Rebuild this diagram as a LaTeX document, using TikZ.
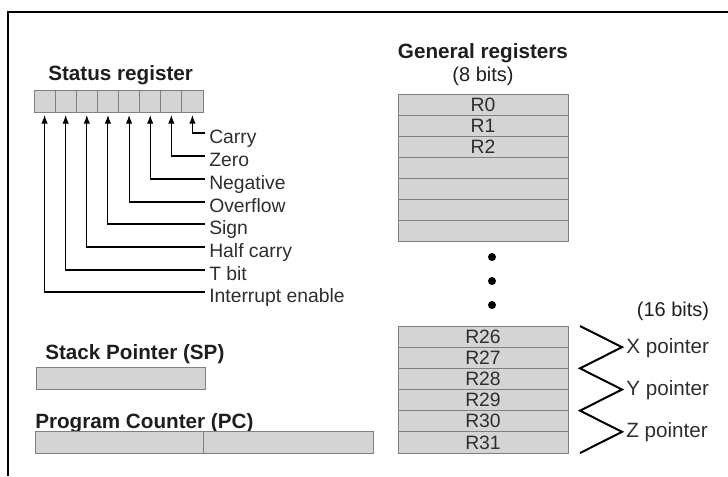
\documentclass[tikz,border=0pt]{standalone}
\usepackage{fontspec}
\setmainfont{Liberation Sans}
\usetikzlibrary{arrows.meta}
\definecolor{cellfill}{HTML}{D4D4D4}
\definecolor{celledge}{HTML}{808080}
\definecolor{labtext}{HTML}{2E2E2E}
\definecolor{titletext}{HTML}{1E1E1E}
\begin{document}
\begin{tikzpicture}[x=0.75pt,y=-0.75pt,
  cell/.style={draw=celledge, fill=cellfill, line width=0.75pt, inner sep=0pt, outer sep=0pt},
  title/.style={font=\fontsize{15.5}{18}\selectfont\bfseries, text=titletext, inner sep=0pt, anchor=base west},
  lab/.style={font=\fontsize{14.5}{17}\selectfont, text=labtext, inner sep=0pt, anchor=base west},
  ptrlab/.style={font=\fontsize{15.5}{18}\selectfont, text=labtext, inner sep=0pt, anchor=base west},
  bitslab/.style={font=\fontsize{15}{18}\selectfont, text=titletext, inner sep=0pt, anchor=base},
  reglab/.style={cell, minimum width=127.5pt, font=\fontsize{14.5}{16}\selectfont, text=labtext},
  flagarrow/.style={line width=0.8pt, -{Latex[length=6.5pt,width=4.8pt]}, shorten >=2.25pt},
  dot/.style={circle, fill=black, inner sep=0pt, minimum size=6pt},
  zig/.style={line width=1.5pt, line join=miter}]
\useasboundingbox (0,0) rectangle (728,476);
% frame
\draw[line width=1.6pt] (728,12) -- (8,12) -- (8,476);

% status register
\node[title] (st) at (48,80) {Status register};
\foreach \i in {1,...,8}
  \node[cell, minimum width=15.84pt, minimum height=16.5pt] (s\i) at ({34+21.125*(\i-0.5)},101) {};
\foreach \i/\t/\y in {8/Carry/133, 7/Zero/156, 6/Negative/179, 5/Overflow/202, 4/Sign/224, 3/Half carry/247, 2/T bit/270, 1/Interrupt enable/292} {
  \coordinate (e\i) at (205,\y);
  \node[lab] (l\i) at (209,\y+10) {\t};
  \draw[flagarrow] (e\i) -| (s\i.south);
}

% general registers
\node[title, anchor=base] (gt) at (483,58) {General registers};
\node[bitslab] (gb) at (483,81) {(8 bits)};
\foreach \i/\t in {0/R0,1/R1,2/R2,3/,4/,5/,6/}
  \node[reglab, minimum height=15.75pt] (g\i) at (483,{104.5+21*\i}) {\t};
\node[dot] (d1) at (492,257) {};
\node[dot] (d2) at (492,281) {};
\node[dot] (d3) at (492,305) {};
\node[bitslab] (hb) at (673,316) {(16 bits)};
\foreach \i/\t in {0/R26,1/R27,2/R28,3/R29,4/R30,5/R31}
  \node[reglab, minimum height=15.875pt] (h\i) at (483,{326+21.17*(\i+0.5)}) {\t};
\foreach \k in {0,2,4,6}
  \coordinate (z\k) at (580,{326+21.17*\k});
\foreach \k in {1,3,5}
  \coordinate (z\k) at (622,{326+21.17*\k});
\draw[zig] (z0) -- (z1) -- (z2) -- (z3) -- (z4) -- (z5) -- (z6);
\node[ptrlab] (xp) at (626,{326+21.17*1+6}) {X pointer};
\node[ptrlab] (yp) at (626,{326+21.17*3+6}) {Y pointer};
\node[ptrlab] (zp) at (626,{326+21.17*5+6}) {Z pointer};

% stack pointer
\node[title] (spt) at (45,359) {Stack Pointer (SP)};
\node[cell, minimum width=126.75pt, minimum height=16.5pt] (sp) at (120.5,378) {};

% program counter
\node[title] (pct) at (35,428) {Program Counter (PC)};
\node[cell, minimum width=126pt, minimum height=16.5pt] (pc1) at (119,442) {};
\node[cell, minimum width=127.5pt, minimum height=16.5pt] (pc2) at (288,442) {};
\end{tikzpicture}
\end{document}
